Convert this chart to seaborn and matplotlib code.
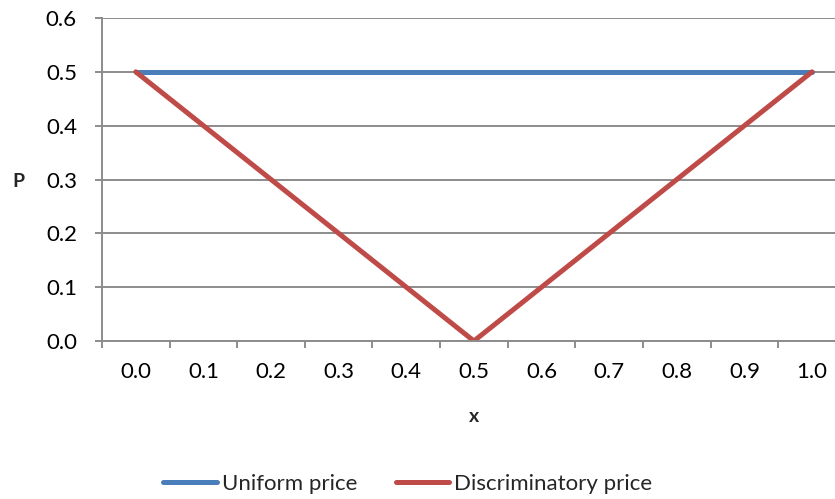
import matplotlib
matplotlib.use("Agg")
import matplotlib.pyplot as plt
import seaborn as sns
import pandas as pd
import numpy as np
from matplotlib.ticker import FixedLocator
from matplotlib.lines import Line2D

# Price schedules over the unit interval
x_labels = ["0.0", "0.1", "0.2", "0.3", "0.4", "0.5", "0.6", "0.7", "0.8", "0.9", "1.0"]
uniform_price = [0.5, 0.5, 0.5, 0.5, 0.5, 0.5, 0.5, 0.5, 0.5, 0.5, 0.5]
discriminatory_price = [0.5, 0.4, 0.3, 0.2, 0.1, 0.0, 0.1, 0.2, 0.3, 0.4, 0.5]
series_names = ["Uniform price", "Discriminatory price"]
y_ticks = [0.0, 0.1, 0.2, 0.3, 0.4, 0.5, 0.6]

pos = np.arange(len(x_labels))
df = pd.DataFrame({
    "pos": np.concatenate([pos, pos]),
    "P": uniform_price + discriminatory_price,
    "series": [series_names[0]] * len(pos) + [series_names[1]] * len(pos),
})

sns.set_theme(style="white")
plt.rcParams["font.family"] = ["Lato", "DejaVu Sans"]

fig = plt.figure(figsize=(8.35, 4.99), dpi=100)
ax = fig.add_axes([102 / 835, 158 / 499, 733 / 835, 323 / 499])

palette = {series_names[0]: "#4A7EBB", series_names[1]: "#BE4B48"}
sns.lineplot(data=df, x="pos", y="P", hue="series", palette=palette,
             linewidth=3.6, ax=ax, legend=False, solid_capstyle="round")

ax.set_xlim(-0.5, 10.34)
ax.set_ylim(0, 0.6)
ax.set_yticks(y_ticks)
ax.set_yticklabels([f"{v:.1f}" for v in y_ticks])
ax.yaxis.grid(True, color="#8C8C8C", linewidth=1.4)
ax.set_axisbelow(True)

ax.set_xticks(pos)
ax.set_xticklabels(x_labels)
ax.xaxis.set_minor_locator(FixedLocator(np.arange(-0.5, 10.0, 1.0)))
ax.tick_params(axis="x", which="major", length=0, pad=15, labelsize=16, colors="black")
ax.tick_params(axis="x", which="minor", length=5, width=1.4, color="#8C8C8C", direction="out", bottom=True)
ax.tick_params(axis="y", which="major", length=5, width=1.4, color="#8C8C8C", direction="out",
               left=True, pad=13, labelsize=16, labelcolor="black")

for side in ["top", "right"]:
    ax.spines[side].set_visible(False)
for side in ["left", "bottom"]:
    ax.spines[side].set_color("#8C8C8C")
    ax.spines[side].set_linewidth(1.4)

ax.set_xlabel("")
ax.set_ylabel("")
fig.text(474 / 835, 1 - 416 / 499, "x", fontsize=14, fontweight="bold", ha="center", va="center")
fig.text(18 / 835, 1 - 182 / 499, "P", fontsize=14, fontweight="bold", ha="center", va="center")

# Legend below the plot
handles = [Line2D([], [], color=palette[n], linewidth=3.6, solid_capstyle="round") for n in series_names]
fig.legend(handles, series_names, loc="center", bbox_to_anchor=(408 / 835, 1 - 484 / 499),
           ncol=2, frameon=False, fontsize=16, handlelength=2.4, handletextpad=0.25,
           columnspacing=1.7)

fig.savefig("out.png", dpi=100)
